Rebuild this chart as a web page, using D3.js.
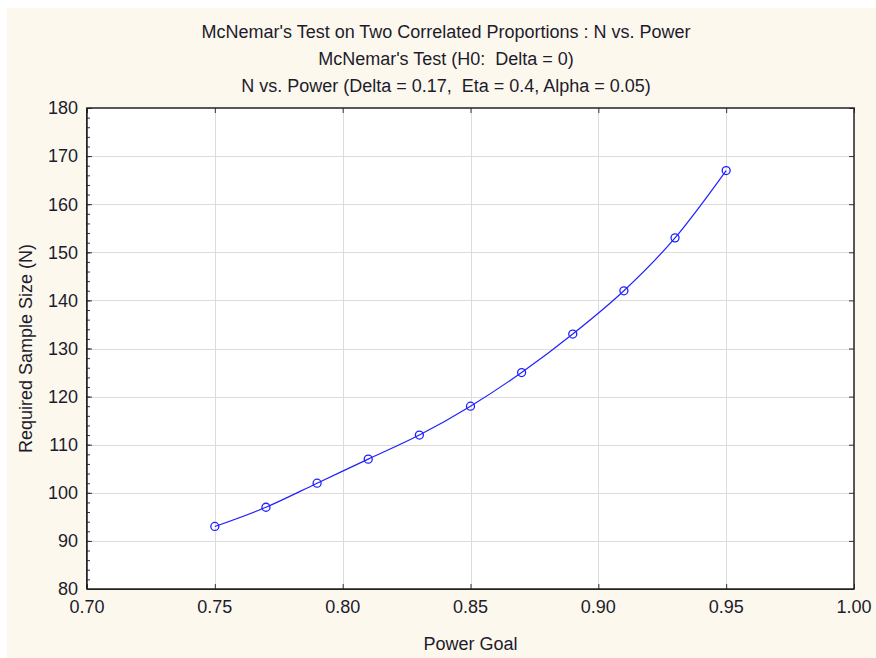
<!DOCTYPE html>
<html>
<head>
<meta charset="utf-8">
<title>N vs Power</title>
<script src="https://cdn.jsdelivr.net/npm/d3@7"></script>
<style>
  body { margin: 0; background: #ffffff; }
  text { font-family: "Liberation Sans", Arial, sans-serif; fill: #1c1c2c; white-space: pre; }
</style>
</head>
<body>
<script>
// data
var power = [0.75, 0.77, 0.79, 0.81, 0.83, 0.85, 0.87, 0.89, 0.91, 0.93, 0.95];
var sampleN = [93, 97, 102, 107, 112, 118, 125, 133, 142, 153, 167];
var xTicks = [0.70, 0.75, 0.80, 0.85, 0.90, 0.95, 1.00];
var yTicks = [80, 90, 100, 110, 120, 130, 140, 150, 160, 170, 180];
var titles = ["McNemar's Test on Two Correlated Proportions : N vs. Power",
              "McNemar's Test (H0:  Delta = 0)",
              "N vs. Power (Delta = 0.17,  Eta = 0.4, Alpha = 0.05)"];

var width = 876, height = 658;
var pl = 87, pt = 108, pr = 854, pb = 589;
var fs = '18px';

var svg = d3.select('body').append('svg').attr('width', width).attr('height', height);

// cream panel
svg.append('rect').attr('x', 7).attr('y', 8).attr('width', width - 7).attr('height', height - 8)
   .attr('fill', '#fdf8ee');

var x = d3.scaleLinear().domain([0.70, 1.00]).range([pl, pr]);
var y = d3.scaleLinear().domain([80, 180]).range([pb, pt]);

svg.append('rect').attr('x', pl).attr('y', pt).attr('width', pr - pl).attr('height', pb - pt)
   .attr('fill', '#ffffff');

// grid
svg.append('g').selectAll('line').data(xTicks.slice(1, -1)).enter().append('line')
   .attr('x1', d => Math.round(x(d)) + 0.5).attr('x2', d => Math.round(x(d)) + 0.5)
   .attr('y1', pt).attr('y2', pb).attr('stroke', '#dcdcdc');
svg.append('g').selectAll('line').data(yTicks.slice(1, -1)).enter().append('line')
   .attr('y1', d => Math.round(y(d)) + 0.5).attr('y2', d => Math.round(y(d)) + 0.5)
   .attr('x1', pl).attr('x2', pr).attr('stroke', '#dcdcdc');

// axes (ticks inside)
var yMinor = d3.range(80, 181, 2);
svg.append('g').attr('transform', 'translate(' + pl + ',0)')
   .call(d3.axisRight(y).tickValues(yMinor).tickSize(3).tickFormat(''));
svg.append('g').attr('transform', 'translate(' + pl + ',0)')
   .call(d3.axisRight(y).tickValues(yTicks).tickSize(5).tickFormat(''));
svg.append('g').attr('transform', 'translate(' + pr + ',0)')
   .call(d3.axisLeft(y).tickValues(yTicks).tickSize(5).tickFormat(''));
svg.append('g').attr('transform', 'translate(0,' + pb + ')')
   .call(d3.axisTop(x).tickValues(xTicks).tickSize(5).tickFormat(''));
svg.append('g').attr('transform', 'translate(0,' + pt + ')')
   .call(d3.axisBottom(x).tickValues(xTicks).tickSize(5).tickFormat(''));
svg.selectAll('.domain').remove();
svg.selectAll('.tick line').attr('stroke', '#333');

// frame
svg.append('rect').attr('x', pl).attr('y', pt).attr('width', pr - pl).attr('height', pb - pt)
   .attr('fill', 'none').attr('stroke', '#222').attr('stroke-width', 1.5);
svg.append('line').attr('x1', pl).attr('x2', pr).attr('y1', pb + 0.5).attr('y2', pb + 0.5)
   .attr('stroke', '#222').attr('stroke-width', 1);
svg.append('line').attr('x1', pl - 0.5).attr('x2', pl - 0.5).attr('y1', pt).attr('y2', pb)
   .attr('stroke', '#222').attr('stroke-width', 1);

// tick labels
svg.append('g').selectAll('text').data(yTicks).enter().append('text')
   .attr('x', pl - 9).attr('y', d => y(d)).attr('dy', '0.35em')
   .attr('text-anchor', 'end').style('font-size', fs).text(d => d);
svg.append('g').selectAll('text').data(xTicks).enter().append('text')
   .attr('x', d => x(d)).attr('y', pb + 24)
   .attr('text-anchor', 'middle').style('font-size', fs).text(d => d.toFixed(2));

// titles
svg.append('g').selectAll('text').data(titles).enter().append('text')
   .attr('x', 446).attr('y', (d, i) => 38 + i * 27)
   .attr('text-anchor', 'middle').style('font-size', fs).text(d => d);

svg.append('text').attr('x', (pl + pr) / 2).attr('y', 650)
   .attr('text-anchor', 'middle').style('font-size', fs).text('Power Goal');
svg.append('text').attr('transform', 'translate(32,' + (pt + pb) / 2 + ') rotate(-90)')
   .attr('text-anchor', 'middle').style('font-size', fs).text('Required Sample Size (N)');

// series
var pts = power.map((p, i) => [p, sampleN[i]]);
var line = d3.line().x(d => x(d[0])).y(d => y(d[1])).curve(d3.curveMonotoneX);
svg.append('path').datum(pts).attr('d', line)
   .attr('fill', 'none').attr('stroke', '#2020ff').attr('stroke-width', 1.2);
svg.append('g').selectAll('circle').data(pts).enter().append('circle')
   .attr('cx', d => x(d[0])).attr('cy', d => y(d[1])).attr('r', 4)
   .attr('fill', 'none').attr('stroke', '#2020ff').attr('stroke-width', 1.3);
</script>
</body>
</html>
